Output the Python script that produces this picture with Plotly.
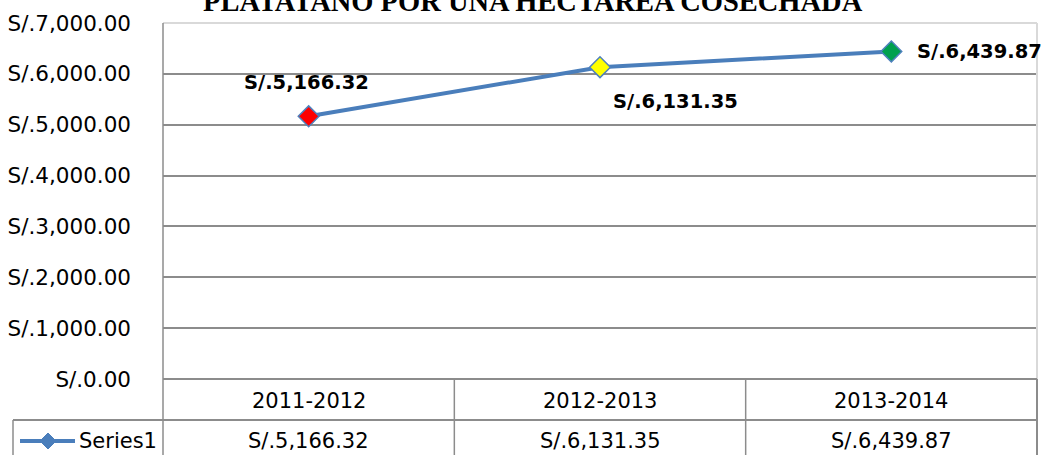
import plotly.graph_objects as go

categories = ["2011-2012", "2012-2013", "2013-2014"]
values = [5166.32, 6131.35, 6439.87]
marker_colors = ["#FF0000", "#FFFF00", "#00A04E"]
series_name = "Series1"
title_text = "PLATATANO POR UNA HECTAREA COSECHADA"
y_ticks = [0, 1000, 2000, 3000, 4000, 5000, 6000, 7000]

W, H = 1043, 455
L, R, T, B = 163, 1037, 23, 379  # plot area pixel bounds
pw, ph = R - L, B - T
YMAX = 7000

def px(x):
    return (x - L) / pw

def py(y):
    return (B - y) / ph

def money(v):
    return "S/." + f"{v:,.2f}"

fig = go.Figure()
fig.add_trace(go.Scatter(
    x=categories, y=values, mode="lines+markers", name=series_name,
    line=dict(color="#4A7EBB", width=4),
    marker=dict(symbol="diamond", size=16, color=marker_colors,
                line=dict(color="#4F81BD", width=1.5)),
    showlegend=False, cliponaxis=False, hoverinfo="skip",
))

label_font = dict(family="DejaVu Sans", size=19.5, color="#000000")
shifts = [(-2, 34), (75, -34), (88, 0)]
annotations = []
for c, v, (dx, dy) in zip(categories, values, shifts):
    annotations.append(dict(x=c, y=v, xref="x", yref="y", text="<b>" + money(v) + "</b>",
                            showarrow=False, xshift=dx, yshift=dy, font=label_font))

# title
annotations.append(dict(x=px(533), y=py(18), xref="paper", yref="paper", text="<b>" + title_text + "</b>",
                        showarrow=False, xanchor="center", yanchor="bottom", borderpad=0,
                        font=dict(family="Liberation Serif", size=28.5, color="#000000")))

# data table texts
table_font = dict(family="DejaVu Sans", size=21, color="#000000")
row1_y = py(401)
row2_y = py(441)
for c, v in zip(categories, values):
    annotations.append(dict(x=c, y=row1_y, xref="x", yref="paper", text=c, showarrow=False,
                            xanchor="center", yanchor="middle", borderpad=0, font=table_font))
    annotations.append(dict(x=c, y=row2_y, xref="x", yref="paper", text=money(v), showarrow=False,
                            xanchor="center", yanchor="middle", borderpad=0, font=table_font))
annotations.append(dict(x=px(78), y=row2_y, xref="paper", yref="paper", text=series_name, showarrow=False,
                        xanchor="left", yanchor="middle", borderpad=0, font=table_font))

grid_col = "#8C8C8C"
light = "#D9D9D9"
shapes = []
shapes.append(dict(type="line", xref="paper", yref="paper", x0=0, x1=1, y0=1, y1=1,
                   line=dict(color=light, width=2), layer="above"))
shapes.append(dict(type="line", xref="paper", yref="paper", x0=1, x1=1, y0=1, y1=0,
                   line=dict(color=light, width=2), layer="above"))
shapes.append(dict(type="line", xref="paper", yref="paper", x0=0, x1=0, y0=1, y1=py(470),
                   line=dict(color=grid_col, width=1.5)))
shapes.append(dict(type="line", xref="paper", yref="paper", x0=0, x1=1, y0=0, y1=0,
                   line=dict(color=grid_col, width=2)))
shapes.append(dict(type="line", xref="paper", yref="paper", x0=px(13), x1=1, y0=py(420), y1=py(420),
                   line=dict(color=grid_col, width=2)))
shapes.append(dict(type="line", xref="paper", yref="paper", x0=px(13), x1=px(13), y0=py(420), y1=py(470),
                   line=dict(color=grid_col, width=1.5)))
shapes.append(dict(type="line", xref="paper", yref="paper", x0=1, x1=1, y0=0, y1=py(470),
                   line=dict(color=grid_col, width=2)))
for xb in [0.5, 1.5]:
    shapes.append(dict(type="line", xref="x", yref="paper", x0=xb, x1=xb, y0=0, y1=py(470),
                       line=dict(color=grid_col, width=1.5)))
# legend symbol
ly = py(441)
shapes.append(dict(type="line", xref="paper", yref="paper", x0=px(20), x1=px(75), y0=ly, y1=ly,
                   line=dict(color="#4A7EBB", width=4)))
cx, hw, hh = px(48), 8 / pw, 8 / ph
shapes.append(dict(type="path", xref="paper", yref="paper",
                   path=f"M {cx-hw},{ly} L {cx},{ly+hh} L {cx+hw},{ly} L {cx},{ly-hh} Z",
                   fillcolor="#4A7EBB", line=dict(color="#4A7EBB", width=1)))

fig.update_layout(
    width=W, height=H,
    margin=dict(l=L, r=W - R, t=T, b=H - B, pad=0),
    paper_bgcolor="white", plot_bgcolor="white",
    annotations=annotations, shapes=shapes,
    xaxis=dict(range=[-0.5, 2.5], showticklabels=False, showgrid=False, zeroline=False,
               showline=False, fixedrange=True),
    yaxis=dict(range=[0, YMAX], tickmode="array", tickvals=y_ticks,
               ticktext=[money(t) for t in y_ticks],
               showgrid=True, gridcolor=grid_col, gridwidth=1.5, zeroline=False, showline=False,
               ticks="", ticklabelstandoff=31, fixedrange=True,
               tickfont=dict(family="DejaVu Sans", size=21.5, color="#000000")),
)

fig.write_html("out.html", config={"displayModeBar": False},
               post_script="document.body.style.margin='0px';")
